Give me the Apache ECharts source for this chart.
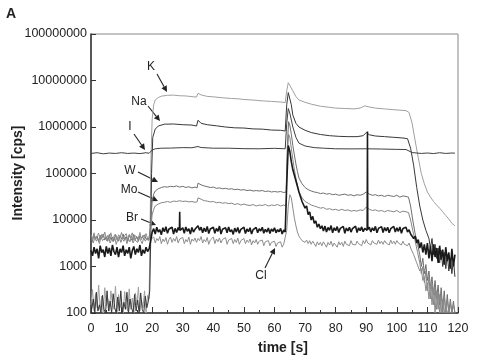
<!DOCTYPE html>
<html><head><meta charset="utf-8">
<script src="https://cdn.jsdelivr.net/npm/echarts@6/dist/echarts.min.js"></script>
<style>html,body{margin:0;padding:0;background:#fff}#c{width:480px;height:361px}</style>
</head><body><div id="c"></div>
<script>
// ---------- data (time [s], intensity [cps]) ----------
const xTicks = [0,10,20,30,40,50,60,70,80,90,100,110,120];
const yTicks = [100,1000,10000,100000,1000000,10000000,100000000];

const seriesK = [[0,150],[0.5,320],[1,110],[1.5,260],[2,130],[2.5,400],[3,120],[3.5,230],[4,100],[4.5,350],[5,140],[5.5,200],[6,110],[6.5,300],[7,160],[7.5,120],[8,380],[8.5,100],[9,250],[9.5,130],[10,170],[10.5,100],[11,290],[11.5,140],[12,110],[12.5,330],[13,120],[13.5,210],[14,100],[14.5,270],[15,150],[15.5,360],[16,110],[16.5,190],[17,130],[17.5,300],[18,100],[18.5,240],
[19,200],[19.3,5000],[19.6,200000],[20,1500000],[20.5,3000000],[21,3800000],[22,4300000],[23,4600000],[25,4800000],[27,4850000],[29,4700000],[31,4650000],[33,4500000],[34.5,4400000],[35,5300000],[36,4900000],[38,4550000],[40,4450000],[43,4250000],[46,4100000],[48,4050000],[50,3900000],[53,3800000],[56,3650000],[59,3550000],[62,3450000],[63.5,3350000],[64,6000000],[64.5,9000000],[65,8500000],[66,6000000],[67,4500000],[68,3800000],[70,3400000],[72,3100000],[75,2800000],[78,2650000],[80,2550000],[83,2500000],[86,2450000],[88,2550000],[89.5,2850000],[91,2700000],[93,2550000],[96,2450000],[99,2350000],[101,2300000],[103,2250000],[104,2050000],[105,1200000],[106,500000],[107,220000],[108,100000],[109,60000],[110,40000],[111,31000],[112,25000],[113,21000],[114,18000],[115,15000],[116,12500],[117,10500],[118,8500],[119,7500]];

const seriesNa = [[0.25,120],[0.75,200],[1.25,100],[1.75,280],[2.25,110],[2.75,150],[3.25,100],[3.75,240],[4.25,120],[4.75,100],[5.25,300],[5.75,110],[6.25,180],[6.75,100],[7.25,260],[7.75,130],[8.25,100],[8.75,220],[9.25,110],[9.75,300],[10.25,100],[10.75,170],[11.25,120],[11.75,280],[12.25,100],[12.75,200],[13.25,130],[13.75,100],[14.25,250],[14.75,110],[15.25,190],[15.75,100],[16.25,270],[16.75,120],[17.25,100],[17.75,230],[18.25,130],[18.75,180],
[19.2,300],[19.5,3000],[19.8,100000],[20.2,600000],[21,900000],[22,1050000],[24,1150000],[27,1160000],[30,1120000],[33,1100000],[34.5,1050000],[35,1400000],[36,1200000],[38,1120000],[41,1060000],[44,1000000],[47,960000],[50,950000],[53,910000],[56,900000],[59,860000],[62,850000],[63.5,820000],[64,3000000],[64.5,5500000],[65,5000000],[65.5,3000000],[66,1800000],[67,1200000],[68,1000000],[70,850000],[72,760000],[75,690000],[78,650000],[81,630000],[84,620000],[87,620000],[89,650000],[90,760000],[91,680000],[93,640000],[96,620000],[99,600000],[102,580000],[103.5,560000],[104.5,350000],[105.5,150000],[106.5,50000],[107.5,20000],[108.5,10000],[109.5,6000],[110.5,4000],[111,2500],[111.5,4000],[112,1800],[112.5,3000],[113,1500],[113.5,2500],[114,1200],[114.5,2200],[115,1000],[115.5,2000],[116,900],[116.5,1800],[117,800],[117.5,1500],[118,700],[118.5,1400],[119,600]];

const seriesI = [[0,270000],[2,280000],[4,265000],[6,275000],[8,270000],[10,280000],[12,270000],[14,275000],[16,268000],[18,280000],[19,272000],[20,320000],[21,340000],[23,350000],[26,352000],[30,360000],[33,358000],[35,380000],[36,362000],[40,350000],[45,350000],[50,342000],[55,340000],[60,348000],[63.5,340000],[64,1200000],[64.5,2500000],[65,2000000],[66,1000000],[67,600000],[68,450000],[70,390000],[73,360000],[76,350000],[80,340000],[85,338000],[90,340000],[95,336000],[100,330000],[103,328000],[105,282000],[108,270000],[110,276000],[112,268000],[114,280000],[116,270000],[118,276000],[119,274000]];

const seriesW = [[0,4200],[0.5,3600],[1,4800],[1.5,3900],[2,4500],[2.5,3400],[3,4700],[3.5,4000],[4,5000],[4.5,3700],[5,4400],[5.5,3500],[6,4900],[6.5,3800],[7,4300],[7.5,3600],[8,4800],[8.5,4100],[9,3500],[9.5,4600],[10,3900],[10.5,5000],[11,3700],[11.5,4400],[12,3500],[12.5,4700],[13,4000],[13.5,3600],[14,4900],[14.5,3800],[15,4300],[15.5,3500],[16,4600],[16.5,4000],[17,3700],[17.5,4800],[18,3900],[18.5,4200],
[19,4000],[19.5,9000],[20,25000],[20.5,36000],[21,42000],[22,47000],[23,50000],[24,52000],[25,51000],[26,53000],[27,52000],[28,54000],[29,51000],[30,53000],[31,50000],[32,52000],[33,49000],[34,51000],[34.7,49000],[35,62000],[36,57000],[37,54000],[38,52000],[39,50000],[40,51000],[41,48000],[42,49000],[43,47000],[44,48000],[45,46000],[46,47000],[47,45000],[48,46000],[49,44000],[50,45000],[51,43000],[52,44000],[53,42000],[54,43000],[55,42000],[56,43000],[57,41000],[58,42000],[59,40000],[60,41000],[61,40000],[62,41000],[63,39000],[63.8,40000],[64.2,400000],[64.6,1300000],[65,1100000],[65.5,700000],[66,400000],[66.5,250000],[67,160000],[67.5,110000],[68,80000],[69,60000],[70,50000],[71,45000],[72,42000],[73,40000],[74,39000],[75,37000],[76,38000],[77,36000],[78,37000],[79,35000],[80,36000],[81,34000],[82,35000],[83,36000],[84,34000],[85,35000],[86,33000],[87,35000],[88,34000],[89,36000],[90,40000],[91,36000],[92,34000],[93,35000],[94,33000],[95,34000],[96,32000],[97,34000],[98,33000],[99,32000],[100,34000],[101,31000],[102,33000],[103,32000],[103.8,31000],[104.5,20000],[105.2,10000],[106,5000],[106.8,3000],[107.5,1800],[108,1000],[108.5,1500],[109,700],[109.5,1100],[110,500],[110.5,800],[111,350],[111.5,600],[112,250],[112.5,500],[113,200],[113.5,400],[114,150],[114.5,350],[115,120],[115.5,300],[116,100],[116.5,250],[117,100],[117.5,200],[118,100],[118.5,180],[119,100]];

const seriesMo = [[0.25,3800],[0.75,3200],[1.25,4300],[1.75,3500],[2.25,4000],[2.75,3100],[3.25,4400],[3.75,3600],[4.25,3300],[4.75,4200],[5.25,3500],[5.75,4500],[6.25,3200],[6.75,3900],[7.25,3400],[7.75,4300],[8.25,3000],[8.75,3800],[9.25,4400],[9.75,3300],[10.25,4000],[10.75,3500],[11.25,4300],[11.75,3100],[12.25,3900],[12.75,3400],[13.25,4500],[13.75,3200],[14.25,3800],[14.75,4100],[15.25,3300],[15.75,4400],[16.25,3600],[16.75,3100],[17.25,4200],[17.75,3500],[18.25,4000],[18.75,3600],
[19,3600],[19.5,6000],[20,13000],[20.5,17000],[21,20000],[22,22000],[23,23500],[24,24000],[25,25000],[26,24000],[27,25500],[28,25000],[29,26000],[30,25000],[31,25500],[32,24500],[33,25000],[34,24000],[34.7,24500],[35,30000],[36,28000],[37,26000],[38,25500],[39,24500],[40,25000],[41,23500],[42,24000],[43,23000],[44,23500],[45,22500],[46,23000],[47,21500],[48,22500],[49,21000],[50,22000],[51,21000],[52,20500],[53,21500],[54,20000],[55,21000],[56,20500],[57,21500],[58,20000],[59,21000],[60,20500],[61,21500],[62,20000],[63,21000],[63.8,20000],[64.2,250000],[64.6,700000],[65,600000],[65.5,350000],[66,200000],[66.5,120000],[67,80000],[67.5,55000],[68,40000],[69,30000],[70,25000],[71,23000],[72,21000],[73,20000],[74,19000],[75,18000],[76,18500],[77,17000],[78,17500],[79,16500],[80,17000],[81,16000],[82,17000],[83,16000],[84,16500],[85,15500],[86,16000],[87,15500],[88,16500],[89,16000],[90,19000],[91,17000],[92,16000],[93,16500],[94,15500],[95,16000],[96,15000],[97,16000],[98,15500],[99,15000],[100,16000],[101,14500],[102,15500],[103,15000],[103.8,14500],[104.5,10000],[105.2,6000],[106,3500],[106.8,2000],[107.5,1200],[108,700],[108.5,1000],[109,450],[109.5,800],[110,300],[110.5,600],[111,200],[111.5,450],[112,150],[112.5,350],[113,120],[113.5,300],[114,100],[114.5,250],[115,100],[115.5,220],[116,100],[116.5,200],[117,100],[117.5,160],[118,100],[118.5,150],[119,100]];

const seriesBr = [[0,2200],[0.5,1700],[1,2600],[1.5,1900],[2,2400],[2.5,1500],[3,2800],[3.5,2000],[4,2300],[4.5,1600],[5,2700],[5.5,1900],[6,2500],[6.5,1700],[7,2900],[7.5,2100],[8,1800],[8.5,2600],[9,1600],[9.5,2400],[10,2000],[10.5,2800],[11,1700],[11.5,2300],[12,1900],[12.5,2600],[13,1500],[13.5,2200],[14,2700],[14.5,1800],[15,2400],[15.5,2000],[16,2900],[16.5,1700],[17,2300],[17.5,1900],[18,2600],[18.5,2100],
[19,2400],[19.5,3500],[20,5500],[20.5,6500],[21,5000],[21.5,7000],[22,5500],[22.5,6200],[23,4800],[23.5,6800],[24,5600],[24.5,7200],[25,5200],[25.5,6400],[26,5800],[26.5,7000],[27,5000],[27.5,6600],[28,5400],[28.5,6900],[28.9,6000],[29,15000],[29.1,6000],[29.5,5600],[30,6800],[30.5,5200],[31,7100],[31.5,5700],[32,6500],[32.5,5000],[33,6900],[33.5,5500],[34,6300],[34.5,5900],[35,7500],[35.5,6000],[36,7000],[36.5,5300],[37,6700],[37.5,5600],[38,7300],[38.5,5100],[39,6400],[39.5,5800],[40,7000],[40.5,5200],[41,6600],[41.5,5700],[42,7400],[42.5,5000],[43,6300],[43.5,5900],[44,6800],[44.5,5300],[45,7100],[45.5,5600],[46,6200],[46.5,4900],[47,6700],[47.5,5500],[48,6900],[48.5,5200],[49,6300],[49.5,5800],[50,7000],[50.5,5100],[51,6400],[51.5,5600],[52,6800],[52.5,5000],[53,6200],[53.5,5700],[54,6900],[54.5,5300],[55,6500],[55.5,5800],[56,7000],[56.5,5200],[57,6300],[57.5,5500],[58,6700],[58.5,5100],[59,6400],[59.5,5700],[60,6800],[60.5,5300],[61,6200],[61.5,5600],[62,6600],[62.5,5000],[63,6100],[63.5,5500],[64,60000],[64.5,400000],[65,300000],[65.5,180000],[66,120000],[67,70000],[68,40000],[69,25000],[70,18000],[70.5,20000],[71,13000],[71.5,15000],[72,10000],[72.5,12000],[73,8500],[73.5,9500],[74,7000],[74.5,8200],[75,6500],[75.5,7500],[76,5800],[76.5,7400],[77,5500],[77.5,6900],[78,6000],[78.5,7600],[79,5300],[79.5,6800],[80,5900],[80.5,7200],[81,5400],[81.5,6600],[82,6100],[82.5,7300],[83,5200],[83.5,6700],[84,5800],[84.5,7000],[85,5500],[85.5,6500],[86,6200],[86.5,7400],[87,5400],[87.5,6800],[88,5900],[88.5,7100],[89,5600],[89.5,6600],[90.3,6000],[90.4,800000],[90.5,6200],[91,7000],[91.5,5500],[92,6800],[92.5,5900],[93,7300],[93.5,5300],[94,6600],[94.5,6000],[95,7200],[95.5,5400],[96,6900],[96.5,5800],[97,7000],[97.5,5300],[98,6500],[98.5,6100],[99,7300],[99.5,5500],[100,6800],[100.5,5700],[101,7100],[101.5,5200],[102,6600],[102.5,6000],[103,7000],[103.5,5500],[104,6200],[104.5,5000],[105,5500],[105.5,4000],[106,4500],[106.5,3200],[107,3800],[107.5,2500],[108,3300],[108.5,2000],[109,3000],[109.5,1800],[110,3200],[110.5,1500],[111,2800],[111.5,1300],[112,3000],[112.5,1600],[113,2500],[113.5,1200],[114,2800],[114.5,1400],[115,2300],[115.5,1100],[116,2600],[116.5,1300],[117,2000],[117.5,900],[118,2400],[118.5,1000],[119,1800]];

const seriesCl = [[0,4800],[0.5,4000],[1,5300],[1.5,3800],[2,4600],[2.5,5200],[3,3700],[3.5,4900],[4,4200],[4.5,5500],[5,3900],[5.5,4700],[6,4100],[6.5,5300],[7,3800],[7.5,4500],[8,5000],[8.5,3700],[9,4800],[9.5,4300],[10,5400],[10.5,3900],[11,4600],[11.5,5100],[12,3800],[12.5,4900],[13,4400],[13.5,5300],[14,3700],[14.5,4600],[15,5000],[15.5,4100],[16,5400],[16.5,3800],[17,4700],[17.5,4200],[18,5100],[18.5,4000],
[19,4200],[19.5,3800],[20,3500],[20.5,4300],[21,3200],[21.5,4000],[22,3600],[22.5,4400],[23,3100],[23.5,3900],[24,3400],[24.5,4200],[25,3000],[25.5,3800],[26,4300],[26.5,3300],[27,4000],[27.5,3500],[28,4400],[28.5,3200],[29,3900],[29.5,3600],[30,4200],[30.5,3100],[31,3800],[31.5,3400],[32,4300],[32.5,3000],[33,3900],[33.5,3500],[34,4100],[34.5,3300],[35,4000],[35.5,3600],[36,4400],[36.5,3200],[37,3800],[37.5,3400],[38,4200],[38.5,3000],[39,3700],[39.5,3500],[40,4300],[40.5,3100],[41,3900],[41.5,3400],[42,4100],[42.5,3200],[43,3800],[43.5,3500],[44,4200],[44.5,3000],[45,3700],[45.5,3400],[46,4000],[46.5,3100],[47,3800],[47.5,3300],[48,4100],[48.5,3000],[49,3600],[49.5,3400],[50,4000],[50.5,3100],[51,3700],[51.5,3300],[52,3900],[52.5,2900],[53,3600],[53.5,3200],[54,3800],[54.5,3000],[55,3500],[55.5,3200],[56,3700],[56.5,2800],[57,3400],[57.5,3100],[58,3600],[58.5,2800],[59,3300],[59.5,3000],[60,3500],[60.5,2700],[61,3200],[61.5,2900],[62,3400],[62.5,2600],[63,3000],[63.5,2800],[64,6000],[64.5,20000],[65,35000],[65.5,30000],[66,18000],[66.5,11000],[67,7500],[67.5,5500],[68,4500],[68.5,4000],[69,3600],[69.5,3900],[70,3300],[70.5,3700],[71,3100],[71.5,3600],[72,3000],[72.5,3500],[73,3100],[73.5,2700],[74,3400],[74.5,2900],[75,3300],[75.5,2800],[76,3400],[76.5,3000],[77,2600],[77.5,3300],[78,2900],[78.5,3500],[79,2700],[79.5,3200],[80,3000],[80.5,2600],[81,3400],[81.5,2900],[82,3300],[82.5,2700],[83,3500],[83.5,3000],[84,3200],[84.5,2800],[85,3600],[85.5,3000],[86,3300],[86.5,2900],[87,3500],[87.5,3100],[88,3400],[88.5,2800],[89,3600],[89.5,3100],[90,3800],[90.5,3200],[91,3500],[91.5,2900],[92,3600],[92.5,3200],[93,3400],[93.5,3000],[94,3700],[94.5,3100],[95,3500],[95.5,3000],[96,3600],[96.5,3200],[97,3400],[97.5,2900],[98,3700],[98.5,3100],[99,3500],[99.5,3000],[100,3600],[100.5,3200],[101,3400],[101.5,2900],[102,3500],[102.5,3000],[103,3300],[103.5,2800],[104,3200],[104.5,2500],[105,2600],[105.5,1800],[106,1900],[106.5,1200],[107,1300],[107.5,800],[108,900],[108.5,500],[109,600],[109.5,300],[110,450],[110.5,200],[111,400],[111.5,150],[112,350],[112.5,100],[113,300],[113.5,120],[114,250],[114.5,100],[115,200],[115.5,100],[116,150],[116.5,100],[117,120],[117.5,100],[118,100],[118.5,100],[119,100]];

const seriesNames = ['K','Na','I','W','Mo','Br','Cl'];
const seriesData = [seriesK, seriesNa, seriesI, seriesW, seriesMo, seriesBr, seriesCl];

// ---------- styles ----------
const lineColors = ['#a0a0a0','#383838','#404040','#6e6e6e','#858585','#1a1a1a','#8c8c8c'];
const lineWidths = [1,1,1,1,1,1.6,1];
const FONT = 'Liberation Sans, Arial, sans-serif';

const chart = echarts.init(document.getElementById('c'), null, {renderer:'canvas'});

function arrow(x1,y1,x2,y2){
  const dx=x2-x1, dy=y2-y1, L=Math.sqrt(dx*dx+dy*dy), ux=dx/L, uy=dy/L;
  const hl=6, hw=3;
  const bx=x2-ux*hl, by=y2-uy*hl;
  return [
    {type:'line', shape:{x1:x1,y1:y1,x2:bx,y2:by}, style:{stroke:'#222',lineWidth:1.1}, silent:true},
    {type:'polygon', shape:{points:[[x2,y2],[bx-uy*hw,by+ux*hw],[bx+uy*hw,by-ux*hw]]}, style:{fill:'#222'}, silent:true}
  ];
}
const annotations = [
  {t:'K', x:151, y:67, a:[157,74,167,92]},
  {t:'Na', x:139, y:102, a:[148,106,160,121]},
  {t:'I', x:130, y:127, a:[134,134,145,150]},
  {t:'W', x:130, y:171, a:[138,172,158,182]},
  {t:'Mo', x:129, y:190, a:[138,192,158,201]},
  {t:'Br', x:132, y:218, a:[141,219,156,225]},
  {t:'Cl', x:261, y:276, a:[265,268,275,248]}
];
const graphics = [];
annotations.forEach(an=>{
  graphics.push({type:'text', x:an.x, y:an.y, style:{text:an.t, font:'12px '+FONT, fill:'#222', align:'center', verticalAlign:'middle'}, silent:true});
  arrow.apply(null, an.a).forEach(g=>graphics.push(g));
});
graphics.push({type:'text', x:11, y:14, style:{text:'A', font:'bold 14px '+FONT, fill:'#222', align:'center', verticalAlign:'middle'}});
graphics.push({type:'text', x:283, y:348, style:{text:'time [s]', font:'bold 14px '+FONT, fill:'#222', align:'center', verticalAlign:'middle'}});
graphics.push({type:'text', x:18, y:173, rotation:Math.PI/2, style:{text:'Intensity [cps]', font:'bold 14px '+FONT, fill:'#222', align:'center', verticalAlign:'middle'}});

chart.setOption({
  animation:false,
  backgroundColor:'#fff',
  grid:{left:91, right:22, top:34, bottom:48, show:true, borderColor:'#888', borderWidth:1},
  xAxis:{type:'value', min:0, max:120, interval:10,
    axisLine:{show:true, onZero:false, lineStyle:{color:'#333', width:1.5}},
    axisTick:{show:true, inside:true, length:6, lineStyle:{color:'#333'}},
    minorTick:{show:true, splitNumber:2, length:3, lineStyle:{color:'#333'}},
    splitLine:{show:false},
    axisLabel:{margin:9, fontSize:12.5, fontFamily:FONT, color:'#222',
      formatter:v=> xTicks.indexOf(Math.round(v))>=0 ? String(Math.round(v)) : ''}
  },
  yAxis:{type:'log', logBase:10, min:100, max:100000000,
    axisLine:{show:true, onZero:false, lineStyle:{color:'#333', width:1.5}},
    axisTick:{show:true, inside:true, length:5, lineStyle:{color:'#333'}},
    splitLine:{show:false},
    axisLabel:{margin:4, fontSize:12.5, fontFamily:FONT, color:'#222',
      formatter:v=>{ const r=yTicks.find(t=>Math.abs(t-v)/t<1e-3); return r? String(r):''; }}
  },
  series: seriesNames.map((n,i)=>({
    name:n, type:'line', data:seriesData[i], showSymbol:false, symbol:'none',
    lineStyle:{color:lineColors[i], width:lineWidths[i]}, z: i===5?3:2, clip:true
  })),
  graphic: graphics
});
</script></body></html>
